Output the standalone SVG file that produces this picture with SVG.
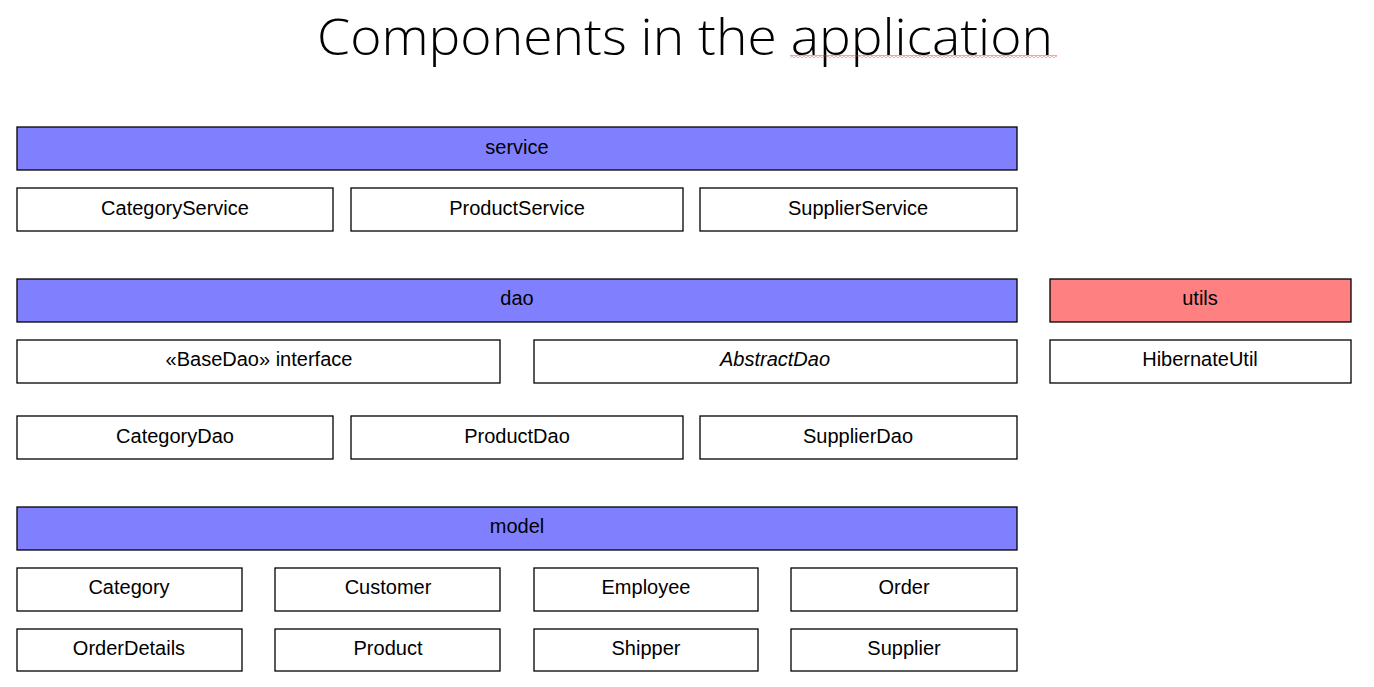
<svg xmlns="http://www.w3.org/2000/svg" width="1374" height="687" viewBox="0 0 1374 687">
  <style>
    .box { fill: #ffffff; stroke: #000000; stroke-width: 1.3; }
    .pkg { fill: #8080ff; stroke: #000000; stroke-width: 1.3; }
    .pkg-red { fill: #ff8080; stroke: #000000; stroke-width: 1.3; }
    .lbl { font-family: "Liberation Sans", Arial, sans-serif; font-size: 20px; fill: #000000; text-anchor: middle; }
    .title { font-family: "Open Sans", "Lato", sans-serif; font-weight: 300; font-size: 50px; fill: #000000; text-anchor: middle; }
  </style>
  <defs>
    <!-- wavy underline tile -->
    <pattern id="wave" x="0" y="0" width="4" height="3" patternUnits="userSpaceOnUse">
      <polyline points="0,2.4 2,0.6 4,2.4" fill="none" stroke="#e83030" stroke-width="0.8"/>
    </pattern>
  </defs>

  <rect width="1374" height="687" fill="#ffffff"/>

  <!-- heading -->
  <text class="title" x="685" y="55" textLength="736" lengthAdjust="spacingAndGlyphs">Components in the application</text>
  <rect x="790" y="55" width="267" height="3" fill="url(#wave)"/>

  <!-- service layer -->
  <g id="service"><rect class="pkg" x="17" y="127" width="1000" height="43"/><text class="lbl" x="517" y="154">service</text></g>
  <g id="CategoryService"><rect class="box" x="17" y="188" width="316" height="43"/><text class="lbl" x="175" y="215">CategoryService</text></g>
  <g id="ProductService"><rect class="box" x="351" y="188" width="332" height="43"/><text class="lbl" x="517" y="215">ProductService</text></g>
  <g id="SupplierService"><rect class="box" x="700" y="188" width="317" height="43"/><text class="lbl" x="858" y="215">SupplierService</text></g>

  <!-- dao layer -->
  <g id="dao"><rect class="pkg" x="17" y="279" width="1000" height="43"/><text class="lbl" x="517" y="305">dao</text></g>
  <g id="BaseDao"><rect class="box" x="17" y="340" width="483" height="43"/><text class="lbl" x="259" y="366">«BaseDao» interface</text></g>
  <g id="AbstractDao"><rect class="box" x="534" y="340" width="483" height="43"/><text class="lbl" x="775" y="366" font-style="italic">AbstractDao</text></g>
  <g id="CategoryDao"><rect class="box" x="17" y="416" width="316" height="43"/><text class="lbl" x="175" y="443">CategoryDao</text></g>
  <g id="ProductDao"><rect class="box" x="351" y="416" width="332" height="43"/><text class="lbl" x="517" y="443">ProductDao</text></g>
  <g id="SupplierDao"><rect class="box" x="700" y="416" width="317" height="43"/><text class="lbl" x="858" y="443">SupplierDao</text></g>

  <!-- utils -->
  <g id="utils"><rect class="pkg-red" x="1050" y="279" width="301" height="43"/><text class="lbl" x="1200" y="305">utils</text></g>
  <g id="HibernateUtil"><rect class="box" x="1050" y="340" width="301" height="43"/><text class="lbl" x="1200" y="366">HibernateUtil</text></g>

  <!-- model layer -->
  <g id="model"><rect class="pkg" x="17" y="507" width="1000" height="43"/><text class="lbl" x="517" y="533">model</text></g>
  <g id="Category"><rect class="box" x="17" y="568" width="225" height="43"/><text class="lbl" x="129" y="594">Category</text></g>
  <g id="Customer"><rect class="box" x="275" y="568" width="225" height="43"/><text class="lbl" x="388" y="594">Customer</text></g>
  <g id="Employee"><rect class="box" x="534" y="568" width="224" height="43"/><text class="lbl" x="646" y="594">Employee</text></g>
  <g id="Order"><rect class="box" x="791" y="568" width="226" height="43"/><text class="lbl" x="904" y="594">Order</text></g>
  <g id="OrderDetails"><rect class="box" x="17" y="629" width="225" height="42"/><text class="lbl" x="129" y="655">OrderDetails</text></g>
  <g id="Product"><rect class="box" x="275" y="629" width="225" height="42"/><text class="lbl" x="388" y="655">Product</text></g>
  <g id="Shipper"><rect class="box" x="534" y="629" width="224" height="42"/><text class="lbl" x="646" y="655">Shipper</text></g>
  <g id="Supplier"><rect class="box" x="791" y="629" width="226" height="42"/><text class="lbl" x="904" y="655">Supplier</text></g>

  <!-- no connectors in this layout -->
  <g id="connectors"/>
</svg>
